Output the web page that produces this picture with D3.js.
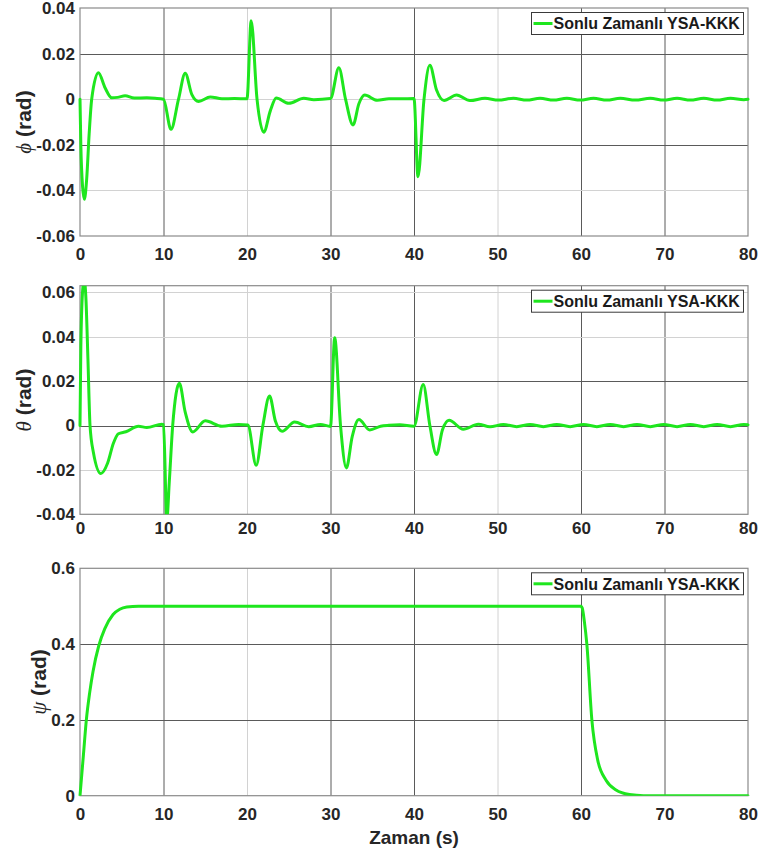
<!DOCTYPE html>
<html>
<head>
<meta charset="utf-8">
<script src="https://cdn.jsdelivr.net/npm/d3@7"></script>
<style>
  html, body { margin: 0; padding: 0; background: #ffffff; }
  svg { display: block; }
</style>
</head>
<body>
<script>
// ---------------- DATA ----------------
const timeTicks = [0, 10, 20, 30, 40, 50, 60, 70, 80];
const timeTickLabels = ["0", "10", "20", "30", "40", "50", "60", "70", "80"];
const legendLabel = "Sonlu Zamanlı YSA-KKK";
const xAxisTitle = "Zaman (s)";

const phiTicks = [0.04, 0.02, 0, -0.02, -0.04, -0.06];
const phiTickLabels = ["0.04", "0.02", "0", "-0.02", "-0.04", "-0.06"];
const thetaTicks = [0.06, 0.04, 0.02, 0, -0.02, -0.04];
const thetaTickLabels = ["0.06", "0.04", "0.02", "0", "-0.02", "-0.04"];
const psiTicks = [0.6, 0.4, 0.2, 0];
const psiTickLabels = ["0.6", "0.4", "0.2", "0"];

const phiTime = [0, 0.1, 0.3, 0.52, 0.8, 1.1, 1.4, 2.2, 3.0, 3.8, 4.5, 5.4, 6.5, 8, 9, 10,
  10.9, 11.8, 12.6, 13.4, 14.2, 15.6, 17, 18.5, 20,
  20.5, 21.2, 22, 22.8, 23.5, 25, 26.8, 28, 30,
  31, 31.8, 32.7, 33.4, 34.1, 35.6, 37, 38.5, 40,
  40.48, 41.2, 41.9, 42.7, 43.6, 45.1, 46.7, 48.5, 50.1, 51.9, 53.5, 55.1, 56.7, 58.3, 59.9,
  61.5, 63.1, 64.7, 66.5, 68.3, 69.9, 71.5, 73.1, 74.7, 76.3, 77.9, 79.5, 80];
const phiValues = [0, -0.02, -0.038, -0.0439, -0.035, -0.015, 0, 0.0116, 0.005, 0.0006, 0.0008, 0.0015, 0.0005, 0.0006, 0.0004, 0,
  -0.0132, 0, 0.0114, 0.002, -0.001, 0.001, 0.0002, 0.0003, 0.0002,
  0.0344, 0, -0.0145, -0.005, 0.0005, -0.0018, 0.0004, -0.0002, 0.0003,
  0.0138, 0, -0.0113, -0.002, 0.0018, -0.0005, 0.0002, 0.0002, 0.0003,
  -0.034, 0, 0.0149, 0.004, -0.0006, 0.0018, -0.0006, 0.0004, -0.0004, 0.0004, -0.0004, 0.0004, -0.0004, 0.0004, -0.0004,
  0.0004, -0.0004, 0.0004, -0.0004, 0.0004, -0.0004, 0.0004, -0.0004, 0.0004, -0.0004, 0.0004, -0.0002, 0];

const thetaTime = [0, 0.1, 0.3, 0.5, 0.7, 0.95, 1.2, 1.6, 2.5, 3.3, 4.0, 4.6, 5.5, 7, 8, 9.8, 10,
  10.4, 10.7, 11.1, 11.9, 12.6, 13.5, 15, 17, 19, 20.1,
  21.1, 21.9, 22.7, 23.4, 24.2, 25.7, 27.4, 28.8, 30,
  30.5, 31.2, 31.9, 32.6, 33.4, 34.7, 36, 37, 38.3, 40,
  41.1, 41.9, 42.7, 43.4, 44.2, 45.9, 47.7, 49.1, 50.7, 52.3, 53.9, 55.5, 57.1, 58.7, 60.3,
  61.9, 63.5, 65.1, 66.7, 68.3, 69.9, 71.5, 73.1, 74.7, 76.3, 77.9, 79.5, 80];
const thetaValues = [0, 0.035, 0.06, 0.066, 0.058, 0.03, 0, -0.012, -0.0216, -0.017, -0.008, -0.0037, -0.0028, -0.0003, -0.0009, 0.0006, 0.0004,
  -0.042, -0.025, 0, 0.019, 0.006, -0.0029, 0.0021, -0.0003, 0.0005, 0.0002,
  -0.0179, 0, 0.0133, 0.002, -0.0026, 0.0016, -0.0005, 0.0005, -0.0004,
  0.0395, 0, -0.0191, -0.005, 0.0027, -0.002, -0.0003, 0.0001, 0.0003, -0.0003,
  0.0185, 0, -0.0131, -0.002, 0.0024, -0.0017, 0.0006, -0.0006, 0.0005, -0.0005, 0.0005, -0.0005, 0.0005, -0.0005, 0.0005,
  -0.0005, 0.0005, -0.0005, 0.0005, -0.0005, 0.0005, -0.0005, 0.0005, -0.0005, 0.0005, -0.0005, 0.0005, 0.0003];

const psiTime = [0, 0.4, 0.76, 1.16, 1.56, 2.24, 2.96, 3.96, 4.76, 5.6, 7, 60,
  60.15, 60.4, 60.7, 61.3, 62, 63, 64.2, 65.8, 67.5, 80];
const psiValues = [0, 0.105, 0.2, 0.272, 0.328, 0.395, 0.44, 0.478, 0.492, 0.498, 0.5, 0.5,
  0.495, 0.46, 0.4, 0.2, 0.094, 0.041, 0.015, 0.003, 0, 0];

// ---------------- LAYOUT / STYLE ----------------
const W = 761, H = 854;
const left = 80, right = 748;
const green = "#1ee61e";
const fontSans = "'Liberation Sans', Arial, Helvetica, sans-serif";
const gridDark = "#5a5a5a", gridLight = "#d2d2d2";
const darkX = new Set([10, 30, 40, 60, 70]);

const panels = [
  { time: phiTime, values: phiValues, ticks: phiTicks, labels: phiTickLabels, domain: [-0.06, 0.04],
    top: 8, bottom: 236, greek: "\u03D5", labelX: 25, xPad: 12, darkY: new Set([0.02, -0.02]) },
  { time: thetaTime, values: thetaValues, ticks: thetaTicks, labels: thetaTickLabels, domain: [-0.04, 0.063],
    top: 285.7, bottom: 514.3, greek: "\u03B8", labelX: 25, xPad: 8, darkY: new Set([0.02, 0]) },
  { time: psiTime, values: psiValues, ticks: psiTicks, labels: psiTickLabels, domain: [0, 0.6],
    top: 568.3, bottom: 795.7, greek: "\u03C8", labelX: 40, xPad: 12, darkY: new Set([0.2, 0.4]) }
];

const svg = d3.select("body").append("svg")
  .attr("width", W).attr("height", H)
  .style("font-family", fontSans);

svg.append("rect").attr("width", W).attr("height", H).attr("fill", "#ffffff");

const x = d3.scaleLinear().domain([0, 80]).range([left, right]);

panels.forEach((p, i) => {
  const y = d3.scaleLinear().domain(p.domain).range([p.bottom, p.top]);
  const g = svg.append("g");

  // grid
  g.append("g").selectAll("line").data(timeTicks.filter(t => t > 0 && t < 80)).join("line")
    .attr("x1", d => x(d) + 0.5).attr("x2", d => x(d) + 0.5)
    .attr("y1", p.top).attr("y2", p.bottom)
    .attr("stroke", d => darkX.has(d) ? gridDark : gridLight).attr("stroke-width", 1);
  g.append("g").selectAll("line").data(p.ticks.filter(v => y(v) > p.top + 0.5 && y(v) < p.bottom - 0.5)).join("line")
    .attr("x1", left).attr("x2", right)
    .attr("y1", d => Math.round(y(d)) + 0.5).attr("y2", d => Math.round(y(d)) + 0.5)
    .attr("stroke", d => p.darkY.has(d) ? gridDark : gridLight).attr("stroke-width", 1);

  // frame
  g.append("rect").attr("x", left).attr("y", p.top).attr("width", right - left).attr("height", p.bottom - p.top)
    .attr("fill", "none").attr("stroke", "#8a8a8a").attr("stroke-width", 1.2);

  // data line
  const clipId = "clip" + i;
  svg.append("clipPath").attr("id", clipId).append("rect")
    .attr("x", left - 2).attr("y", p.top).attr("width", right - left + 4).attr("height", p.bottom - p.top);
  const pts = p.time.map((t, k) => [t, p.values[k]]);
  g.append("path").datum(pts)
    .attr("clip-path", `url(#${clipId})`)
    .attr("fill", "none").attr("stroke", green).attr("stroke-width", 3)
    .attr("stroke-linejoin", "round").attr("stroke-linecap", "round")
    .attr("d", d3.line().x(d => x(d[0])).y(d => y(d[1])).curve(d3.curveMonotoneX));

  // axes
  const xa = g.append("g").attr("transform", `translate(0,${p.bottom})`)
    .call(d3.axisBottom(x).tickValues(timeTicks).tickFormat((d, k) => timeTickLabels[k]).tickSize(0).tickPadding(p.xPad));
  xa.select(".domain").remove();
  xa.selectAll("text").attr("font-size", 17).attr("font-weight", "bold").attr("fill", "#262626")
    .attr("font-family", fontSans);

  const ya = g.append("g").attr("transform", `translate(${left},0)`)
    .call(d3.axisLeft(y).tickValues(p.ticks).tickFormat((d, k) => p.labels[k]).tickSize(0).tickPadding(5));
  ya.select(".domain").remove();
  ya.selectAll("text").attr("font-size", 17).attr("font-weight", "bold").attr("fill", "#262626")
    .attr("font-family", fontSans);

  // y label
  const cy = (p.top + p.bottom) / 2;
  const yl = g.append("text")
    .attr("transform", `translate(${p.labelX},${cy}) rotate(-90)`)
    .attr("text-anchor", "middle").attr("dy", "0.35em")
    .attr("fill", "#262626");
  yl.append("tspan").text(p.greek)
    .attr("font-family", "'Liberation Serif', 'Times New Roman', serif")
    .attr("font-style", "italic").attr("font-size", 21).attr("font-weight", "normal");
  yl.append("tspan").text(" (rad)")
    .attr("font-size", 21).attr("font-weight", "bold");

  // legend
  const lx = 531.5, ly = p.top + 4.5, lw = 212, lh = 22;
  const lg = g.append("g");
  lg.append("rect").attr("x", lx).attr("y", ly).attr("width", lw).attr("height", lh)
    .attr("fill", "#ffffff").attr("stroke", "#3a3a3a").attr("stroke-width", 1);
  lg.append("line").attr("x1", lx + 2).attr("x2", lx + 21).attr("y1", ly + lh / 2).attr("y2", ly + lh / 2)
    .attr("stroke", green).attr("stroke-width", 3);
  lg.append("text").attr("x", lx + 22).attr("y", ly + lh / 2).attr("dy", "0.36em")
    .attr("font-size", 16).attr("font-weight", "bold").attr("fill", "#1a1a1a").text(legendLabel);
});

// x-axis title
svg.append("text").attr("x", (left + right) / 2).attr("y", 844)
  .attr("text-anchor", "middle").attr("font-size", 19).attr("font-weight", "bold")
  .attr("fill", "#262626").text(xAxisTitle);
</script>
</body>
</html>
